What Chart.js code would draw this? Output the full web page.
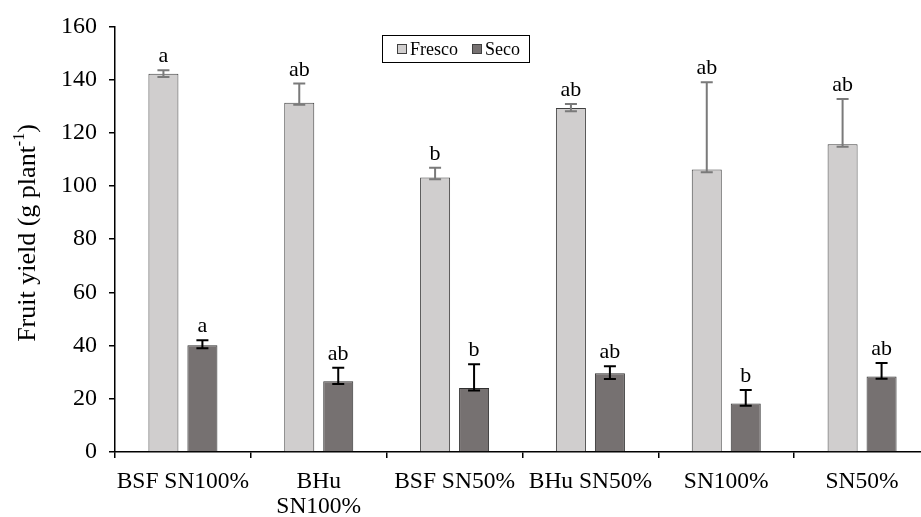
<!DOCTYPE html>
<html>
<head>
<meta charset="utf-8">
<script src="https://cdn.jsdelivr.net/npm/chart.js@4.4.1/dist/chart.umd.min.js"></script>
<style>
  html, body { margin: 0; padding: 0; background: #fff; overflow: hidden; }
  #wrap { width: 935px; height: 517px; position: relative; }
</style>
</head>
<body>
<div id="wrap"><canvas id="chartFruit"></canvas></div>
<script>
'use strict';

// data
const categories = ['BSF SN100%', ['BHu', 'SN100%'], 'BSF SN50%', 'BHu SN50%', 'SN100%', 'SN50%'];
const fresco   = [142.2, 131.3, 103.2, 129.3, 106.2, 115.7];
const frescoHi = [143.5, 138.5, 106.9, 130.8, 139.0, 132.7];
const frescoLo = [141.0, 130.5, 102.5, 128.1, 105.2, 114.8];
const seco     = [40.1, 26.6, 24.1, 29.6, 18.2, 28.4];
const secoHi   = [42.0, 31.7, 33.0, 32.2, 23.3, 33.5];
const secoLo   = [39.0, 25.6, 23.1, 27.4, 17.4, 27.5];
const frescoLetters = ['a', 'ab', 'b', 'ab', 'ab', 'ab'];
const secoLetters   = ['a', 'ab', 'b', 'ab', 'b', 'ab'];
const yTicks = [0, 20, 40, 60, 80, 100, 120, 140, 160];

const serif = '"Liberation Serif", "Times New Roman", serif';

// error bars + significance letters
const errorBars = {
  id: 'errorBars',
  afterDatasetsDraw(chart) {
    const ctx = chart.ctx;
    const y = chart.scales.y;
    const sets = [
      { hi: frescoHi, lo: frescoLo, letters: frescoLetters, color: '#7a7a7a' },
      { hi: secoHi, lo: secoLo, letters: secoLetters, color: '#000000' }
    ];
    sets.forEach(function(s, i) {
      const meta = chart.getDatasetMeta(i);
      meta.data.forEach(function(bar, j) {
        const x = bar.x;
        const yh = y.getPixelForValue(s.hi[j]);
        const yl = y.getPixelForValue(s.lo[j]);
        ctx.save();
        ctx.strokeStyle = s.color;
        ctx.lineWidth = 2;
        ctx.beginPath();
        ctx.moveTo(x, yh); ctx.lineTo(x, yl);
        ctx.moveTo(x - 6, yh); ctx.lineTo(x + 6, yh);
        ctx.moveTo(x - 6, yl); ctx.lineTo(x + 6, yl);
        ctx.stroke();
        ctx.fillStyle = '#000';
        ctx.font = '22px ' + serif;
        ctx.textAlign = 'center';
        ctx.textBaseline = 'alphabetic';
        ctx.fillText(s.letters[j], x, yh - 8);
        ctx.restore();
      });
    });
  }
};

// framed legend inside the plot and y axis title with superscript
const extras = {
  id: 'extras',
  afterDraw(chart) {
    const ctx = chart.ctx;
    ctx.save();
    // legend
    ctx.strokeStyle = '#000';
    ctx.lineWidth = 1;
    ctx.strokeRect(382.5, 35.5, 147, 27);
    ctx.font = '18px ' + serif;
    ctx.textBaseline = 'middle';
    ctx.textAlign = 'left';
    const items = [
      { label: 'Fresco', color: '#d0cece', x: 397 },
      { label: 'Seco', color: '#767171', x: 472 }
    ];
    items.forEach(function(it) {
      ctx.fillStyle = it.color;
      ctx.fillRect(it.x, 44, 10, 10);
      ctx.strokeStyle = '#404040';
      ctx.strokeRect(it.x + 0.5, 44.5, 9, 9);
      ctx.fillStyle = '#000';
      ctx.fillText(it.label, it.x + 13, 50);
    });

    // y title
    ctx.translate(28, 233);
    ctx.rotate(-Math.PI / 2);
    const main = 'Fruit yield (g plant';
    const sup = '-1';
    const tail = ')';
    ctx.font = '26px ' + serif;
    const w1 = ctx.measureText(main).width;
    const w3 = ctx.measureText(tail).width;
    ctx.font = '16px ' + serif;
    const w2 = ctx.measureText(sup).width;
    let x0 = -(w1 + w2 + w3) / 2;
    ctx.fillStyle = '#000';
    ctx.textAlign = 'left';
    ctx.textBaseline = 'middle';
    ctx.font = '26px ' + serif;
    ctx.fillText(main, x0, 0);
    ctx.font = '16px ' + serif;
    ctx.fillText(sup, x0 + w1, -8);
    ctx.font = '26px ' + serif;
    ctx.fillText(tail, x0 + w1 + w2, 0);
    ctx.restore();
  }
};

new Chart(document.getElementById('chartFruit'), {
  type: 'bar',
  data: {
    labels: categories,
    datasets: [
      {
        label: 'Fresco',
        data: fresco,
        backgroundColor: '#d0cece',
        borderColor: '#404040',
        borderWidth: 1
      },
      {
        label: 'Seco',
        data: seco,
        backgroundColor: '#767171',
        borderColor: '#303030',
        borderWidth: 1
      }
    ]
  },
  options: {
    responsive: true,
    maintainAspectRatio: false,
    animation: false,
    categoryPercentage: 0.574,
    barPercentage: 0.77,
    layout: { padding: { top: 25, right: 5, left: 0, bottom: 0 } },
    plugins: {
      legend: { display: false },
      tooltip: { enabled: false }
    },
    scales: {
      x: {
        afterFit: function(scale) { scale.height = 65; },
        grid: {
          offset: true,
          drawOnChartArea: false,
          drawTicks: true,
          tickLength: 6,
          color: '#000',
          lineWidth: 1.5
        },
        border: { color: '#000', width: 1.5 },
        ticks: {
          color: '#000',
          font: { family: serif, size: 23.5, lineHeight: 1.06 },
          padding: 11,
          maxRotation: 0,
          autoSkip: false
        }
      },
      y: {
        min: 0,
        max: 160,
        afterFit: function(scale) { scale.width = 115; },
        afterBuildTicks: function(scale) {
          scale.ticks = yTicks.map(function(v) { return { value: v }; });
        },
        grid: {
          drawOnChartArea: false,
          drawTicks: true,
          tickLength: 6,
          color: '#000',
          lineWidth: 1.5
        },
        border: { color: '#000', width: 1.5 },
        ticks: {
          color: '#000',
          font: { family: serif, size: 24 },
          padding: 12
        }
      }
    }
  },
  plugins: [errorBars, extras]
});
</script>
</body>
</html>
